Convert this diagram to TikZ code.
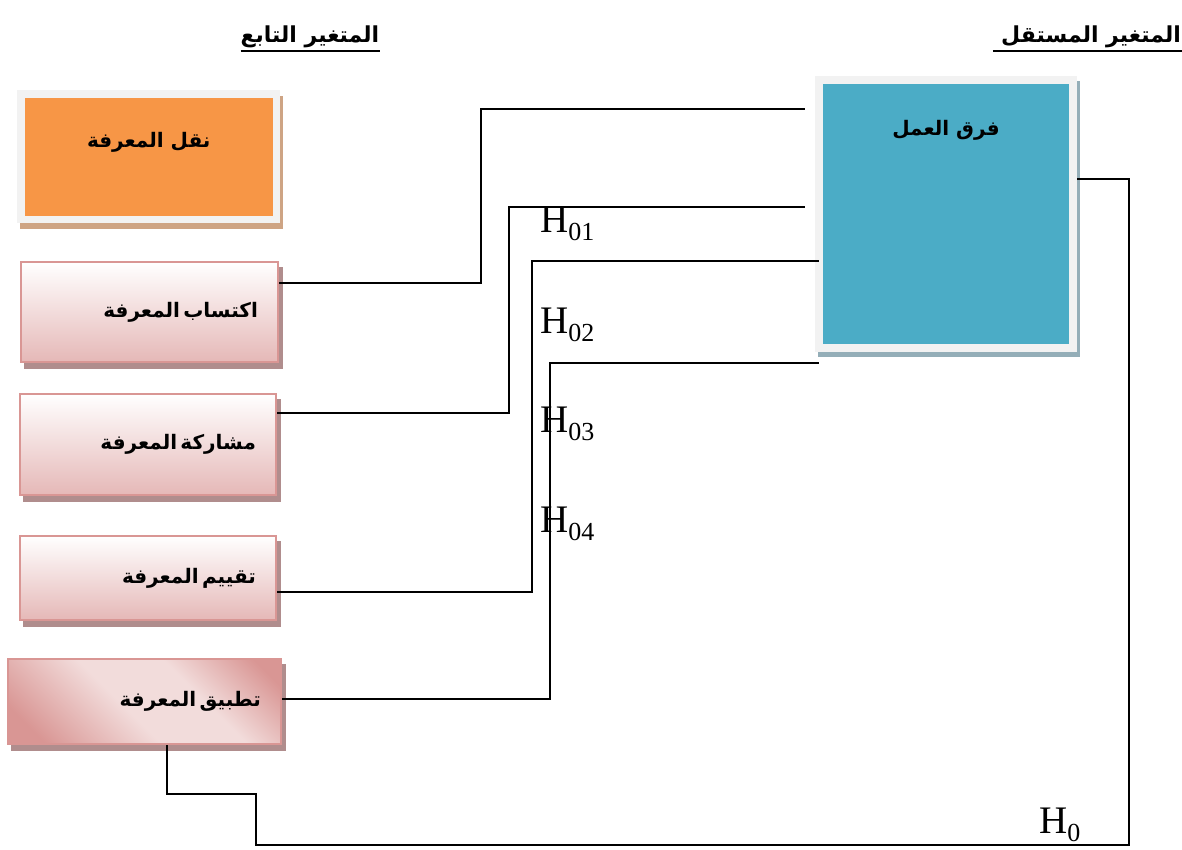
\documentclass[tikz,border=0pt]{standalone}
\usepackage{fontspec}
\usetikzlibrary{shadows}
\TeXXeTstate=1
\newfontfamily\arfont[Script=Arabic]{DejaVu Sans}
\newfontfamily\hfont{Liberation Serif}
\definecolor{framegray}{RGB}{242,242,242}
\definecolor{orangefill}{RGB}{247,150,70}
\definecolor{tanshadow}{RGB}{206,164,132}
\definecolor{bluefill}{RGB}{75,172,198}
\definecolor{blueshadow}{RGB}{148,174,184}
\definecolor{pinkborder}{RGB}{217,150,148}
\definecolor{pinkfill}{RGB}{229,184,183}
\definecolor{pinklight}{RGB}{242,220,219}
\definecolor{pinkshadow}{RGB}{176,141,141}
\pgfdeclareverticalshading{pinkband}{100bp}{color(0bp)=(pinkborder); color(22bp)=(pinkborder); color(45bp)=(pinklight); color(62bp)=(pinklight); color(80bp)=(pinkborder); color(100bp)=(pinkborder)}
\newcommand{\arsize}[1][20]{\fontsize{#1}{#1}\selectfont\arfont\bfseries}
\newcommand{\hyp}[1]{{\hfont\fontsize{39}{39}\selectfont H\raisebox{-8pt}{\fontsize{26}{26}\selectfont #1}}}
\tikzset{
  heading/.style={inner xsep=0pt, inner ysep=3pt},
  mainbox/.style={draw=framegray, line width=7.5pt, inner sep=0pt},
  dimbox/.style={draw=pinkborder, line width=2pt, top color=white, bottom color=pinkfill,
    text width=#1, align=right, inner xsep=20pt,
    general shadow={fill=pinkshadow, draw=pinkshadow, line width=2pt, shadow xshift=4pt, shadow yshift=-6pt}},
  hlabel/.style={anchor=base west, inner sep=0pt},
  link/.style={line width=1.3pt}
}
\begin{document}
\begin{tikzpicture}[x=1pt, y=-1pt]
\useasboundingbox (0,0) rectangle (1182,850);

% headings
\node[heading, anchor=south] (depvar) at (310,51) {\arsize[22]\beginR المتغير التابع\endR};
\node[heading, anchor=south] (indvar) at (1091,51) {\arsize[22]\beginR المتغير المستقل\endR};
\draw[line width=2.2pt] (depvar.south west) -- (depvar.south east);
\draw[line width=2.2pt] ([xshift=-8pt]indvar.south west) -- ([xshift=2pt]indvar.south east);

% main boxes
\node[mainbox, fill=orangefill, minimum width=255.5pt, minimum height=125.5pt,
  general shadow={fill=tanshadow, draw=tanshadow, line width=7.5pt, shadow xshift=3pt, shadow yshift=-6pt},
  label={[anchor=center, yshift=-52pt]north:{\arsize\beginR نقل المعرفة\endR}}] (transfer) at (148.75,156.75) {};
\node[mainbox, fill=bluefill, minimum width=254pt, minimum height=268pt,
  general shadow={fill=blueshadow, draw=blueshadow, line width=7.5pt, shadow xshift=3pt, shadow yshift=-5pt},
  label={[anchor=center, yshift=-54pt]north:{\arsize\beginR فرق العمل\endR}}] (team) at (946,214) {};

% dimensions
\node[dimbox=217pt, minimum height=100pt] (acquire) at (149.5,312) {\arsize\beginR اكتساب المعرفة\endR};
\node[dimbox=216pt, minimum height=101pt] (share) at (148,444.5) {\arsize\beginR مشاركة المعرفة\endR};
\node[dimbox=216pt, minimum height=84pt] (assess) at (148,578) {\arsize\beginR تقييم المعرفة\endR};
\node[dimbox=233pt, minimum height=85pt, shading=pinkband, shading angle=-45] (apply) at (144.5,701.5) {\arsize\beginR تطبيق المعرفة\endR};

% free ends at the team box
\coordinate (t1) at (805,109);
\coordinate (t2) at (805,207);
\coordinate (t3) at (819,261);
\coordinate (t4) at (819,363);

% connectors
\draw[link] ([yshift=29pt]acquire.east) -| (481,109) -- (t1);
\draw[link] ([yshift=31.5pt]share.east) -| (509,207) -- (t2);
\draw[link] ([yshift=-14pt]assess.east) -| (532,261) -- (t3);
\draw[link] ([yshift=2.5pt]apply.east) -| (550,363) -- (t4);
\draw[link] ([xshift=22.5pt]apply.south) |- (256,794) |- (1129,845) |- ([yshift=35pt]team.east);

% hypotheses
\node[hlabel] (h01) at (540,233) {\hyp{01}};
\node[hlabel] (h02) at (540,333) {\hyp{02}};
\node[hlabel] (h03) at (540,432) {\hyp{03}};
\node[hlabel] (h04) at (540,532) {\hyp{04}};
\node[hlabel] (h0) at (1039,833) {\hyp{0}};
\end{tikzpicture}
\end{document}
